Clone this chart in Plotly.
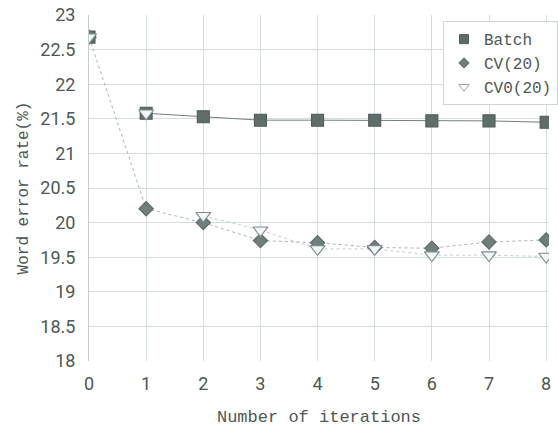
import plotly.graph_objects as go

iterations = [0, 1, 2, 3, 4, 5, 6, 7, 8]
batch = [22.68, 21.58, 21.53, 21.48, 21.48, 21.48, 21.47, 21.47, 21.45]
cv20 = [22.68, 20.20, 20.00, 19.74, 19.71, 19.64, 19.63, 19.72, 19.75]
cv0_20 = [22.68, 21.58, 20.10, 19.89, 19.62, 19.62, 19.53, 19.53, 19.51]

y_ticks = [18, 18.5, 19, 19.5, 20, 20.5, 21, 21.5, 22, 22.5, 23]

MONO = "Liberation Mono"
TICKFONT = "Roboto"
TEXT = "#4d5856"
GRID = "#d6dfdf"

# series styles: (name, values, symbol, size, fill, edge, line colour, dash, first line index)
series = [
    ("CV0(20)", cv0_20, "triangle-down", 13, "#f2f7f9", "#7f8c8a", "#c3cdcd", "dot", 2),
    ("CV(20)", cv20, "diamond", 11, "#6f7f7b", "#5d6b68", "#aab6b4", "dot", 0),
    ("Batch", batch, "square", 12, "#5f6e6a", "#4f5c59", "#75817e", "solid", 1),
]

fig = go.Figure()

# connecting lines
for name, vals, sym, size, fill, edge, lcol, dash, start in series:
    fig.add_trace(go.Scatter(
        x=iterations[start:], y=vals[start:], mode="lines", showlegend=False,
        line=dict(color=lcol, width=1, dash=dash), hoverinfo="skip",
    ))

# markers (Batch drawn first so the triangles sit on top at 0 and 1)
for name, vals, sym, size, fill, edge, lcol, dash, start in reversed(series):
    fig.add_trace(go.Scatter(
        x=iterations, y=vals, mode="markers", name=name, showlegend=False,
        marker=dict(symbol=sym, size=size, color=fill, line=dict(color=edge, width=1.1)),
    ))

# compact legend symbols
legend_sizes = {"Batch": 9, "CV(20)": 8, "CV0(20)": 9}
for rank, (name, vals, sym, size, fill, edge, lcol, dash, start) in enumerate(reversed(series)):
    fig.add_trace(go.Scatter(
        x=[None], y=[None], mode="markers", name=name, legendrank=rank + 1,
        marker=dict(symbol=sym, size=legend_sizes[name],
                    color=fill if sym != "triangle-down" else "white",
                    line=dict(color=edge if sym != "triangle-down" else "#9aa6a4", width=1)),
    ))

fig.update_layout(
    width=558, height=429,
    margin=dict(l=89, r=0, t=15, b=68),
    paper_bgcolor="white", plot_bgcolor="white",
    font=dict(family=MONO, color=TEXT, size=16),
    showlegend=True,
    legend=dict(
        x=0.77, y=0.982, xanchor="left", yanchor="top",
        bgcolor="white", bordercolor="#cdd5d5", borderwidth=1,
        font=dict(family=MONO, size=16, color=TEXT),
        itemwidth=30, tracegroupgap=0,
    ),
)

fig.update_xaxes(
    range=[0, 8.05], tickvals=iterations, ticktext=[str(v) for v in iterations],
    showgrid=True, gridcolor=GRID, gridwidth=1,
    zeroline=False, showline=False, ticks="",
    ticklabeloverflow="allow", ticklabelstandoff=10,
    tickfont=dict(family=TICKFONT, size=18, color=TEXT),
    title=dict(text="Number of iterations", standoff=17,
               font=dict(family=MONO, size=17, color=TEXT)),
)
fig.update_yaxes(
    range=[18, 23], tickvals=y_ticks,
    showgrid=True, gridcolor=GRID, gridwidth=1,
    zeroline=False, showline=True, linecolor="#c4cccc", ticks="",
    ticklabelstandoff=9,
    tickfont=dict(family=TICKFONT, size=18, color=TEXT),
    title=dict(text="Word error rate(%)", standoff=7,
               font=dict(family=MONO, size=16, color=TEXT)),
)

fig.write_html("out.html")
